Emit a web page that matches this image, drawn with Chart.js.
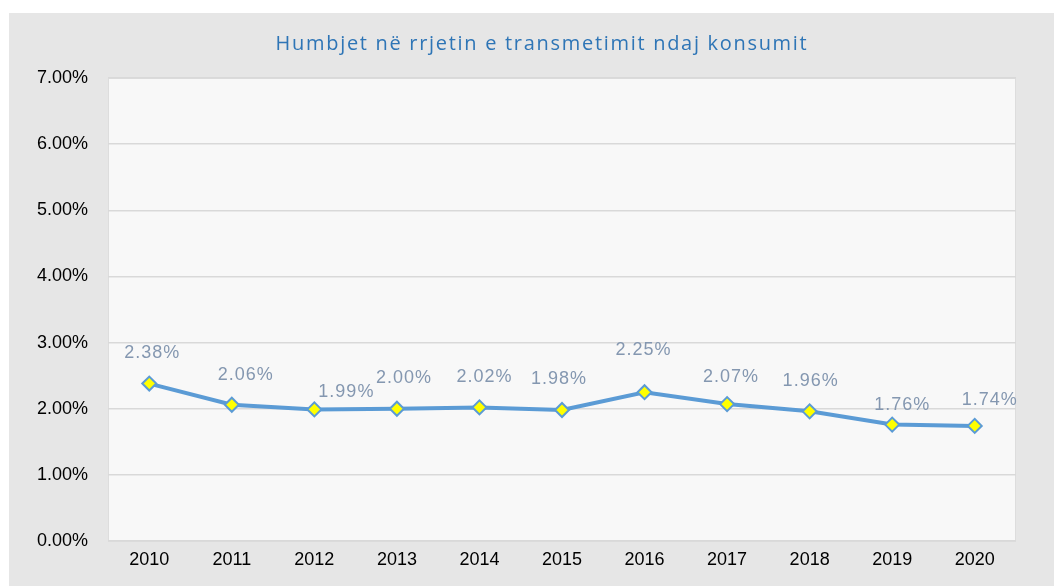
<!DOCTYPE html>
<html>
<head>
<meta charset="utf-8">
<script src="https://cdn.jsdelivr.net/npm/chart.js@4"></script>
<style>
  body { margin: 0; background: #ffffff; }
  #marco { position: absolute; left: 9px; top: 13px; width: 1045px; height: 573px; background: #e6e6e6; }
  #contenedor { position: absolute; left: 21px; top: 0; width: 1024px; height: 573px; }
</style>
</head>
<body>
<div id="marco">
  <div id="contenedor"><canvas id="graficoHumbjet"></canvas></div>
</div>
<script>
// ============ Datos ============
const anios = ["2010", "2011", "2012", "2013", "2014", "2015", "2016", "2017", "2018", "2019", "2020"];
const humbjet = [2.38, 2.06, 1.99, 2.00, 2.02, 1.98, 2.25, 2.07, 1.96, 1.76, 1.74];
const ejeMin = 0;
const ejeMax = 7;
const ejePaso = 1;

// desplazamiento de las etiquetas (como las deja Excel)
const etiquetaDx = [3, 14, 32, 7, 5, -3, -1, 4, 1, 10, 15];
const etiquetaDy = [-31, -30, -17, -31, -30, -31, -42, -27, -30, -20, -26];

// ============ Fondo del área de trazado ============
const fondoArea = {
  id: "fondoArea",
  beforeDraw(chart) {
    const { ctx, chartArea: a } = chart;
    ctx.save();
    ctx.fillStyle = "#f8f8f8";
    ctx.fillRect(a.left, a.top, a.right - a.left, a.bottom - a.top);
    ctx.strokeStyle = "#dddddd";
    ctx.lineWidth = 1;
    ctx.strokeRect(a.left + 0.5, a.top + 0.5, a.right - a.left - 1, a.bottom - a.top);
    ctx.restore();
  }
};

// ============ Etiquetas de valores ============
const etiquetasValores = {
  id: "etiquetasValores",
  afterDatasetsDraw(chart) {
    const ctx = chart.ctx;
    const meta = chart.getDatasetMeta(0);
    ctx.save();
    ctx.font = "18px 'Liberation Sans', Arial, sans-serif";
    ctx.letterSpacing = "1px";
    ctx.fillStyle = "#8497b0";
    ctx.textAlign = "center";
    ctx.textBaseline = "middle";
    meta.data.forEach((p, i) => {
      ctx.fillText(humbjet[i].toFixed(2) + "%", p.x + etiquetaDx[i], p.y + etiquetaDy[i]);
    });
    ctx.restore();
  }
};

const grafico = new Chart(document.getElementById("graficoHumbjet"), {
  type: "line",
  data: {
    labels: anios,
    datasets: [{
      label: "Humbjet",
      data: humbjet,
      borderColor: "#5b9bd5",
      borderWidth: 4,
      tension: 0,
      pointStyle: "rectRot",
      pointRadius: 7,
      pointHoverRadius: 7,
      pointBackgroundColor: "#ffff00",
      pointBorderColor: "#5b9bd5",
      pointBorderWidth: 2,
      fill: false
    }]
  },
  options: {
    responsive: true,
    maintainAspectRatio: false,
    animation: false,
    layout: { padding: 0 },
    scales: {
      x: {
        offset: true,
        grid: { display: false, drawTicks: false },
        border: { display: false },
        ticks: { color: "#000000", padding: 8, font: { family: "'Liberation Sans', Arial, sans-serif", size: 18 } },
        afterFit(scale) { scale.height = 45; }
      },
      y: {
        min: ejeMin,
        max: ejeMax,
        ticks: {
          stepSize: ejePaso,
          color: "#000000",
          padding: 20,
          font: { family: "'Liberation Sans', Arial, sans-serif", size: 18 },
          callback: v => v.toFixed(2) + "%"
        },
        grid: { color: "#d9d9d9", lineWidth: 1.5, drawTicks: false },
        border: { display: false },
        afterFit(scale) { scale.width = 78; }
      },
      derecha: {
        position: "right",
        display: true,
        grid: { display: false, drawTicks: false },
        border: { display: false },
        ticks: { display: false },
        afterFit(scale) { scale.width = 38; }
      }
    },
    plugins: {
      legend: { display: false },
      tooltip: { enabled: false },
      title: {
        display: true,
        text: "Humbjet në rrjetin e transmetimit ndaj konsumit",
        color: "#2e75b6",
        font: { family: "'Open Sans', sans-serif", size: 20, weight: "normal" },
        padding: { top: 19, bottom: 22 }
      }
    }
  },
  plugins: [fondoArea, etiquetasValores]
});

// ============ Título con espaciado de letras, como en Excel ============
if (grafico.titleBlock) {
  const dibujarTitulo = grafico.titleBlock.draw.bind(grafico.titleBlock);
  grafico.titleBlock.draw = function () {
    const ctx = grafico.ctx;
    ctx.save();
    ctx.letterSpacing = "1.7px";
    dibujarTitulo();
    ctx.restore();
  };
  grafico.draw();
}
</script>
</body>
</html>
